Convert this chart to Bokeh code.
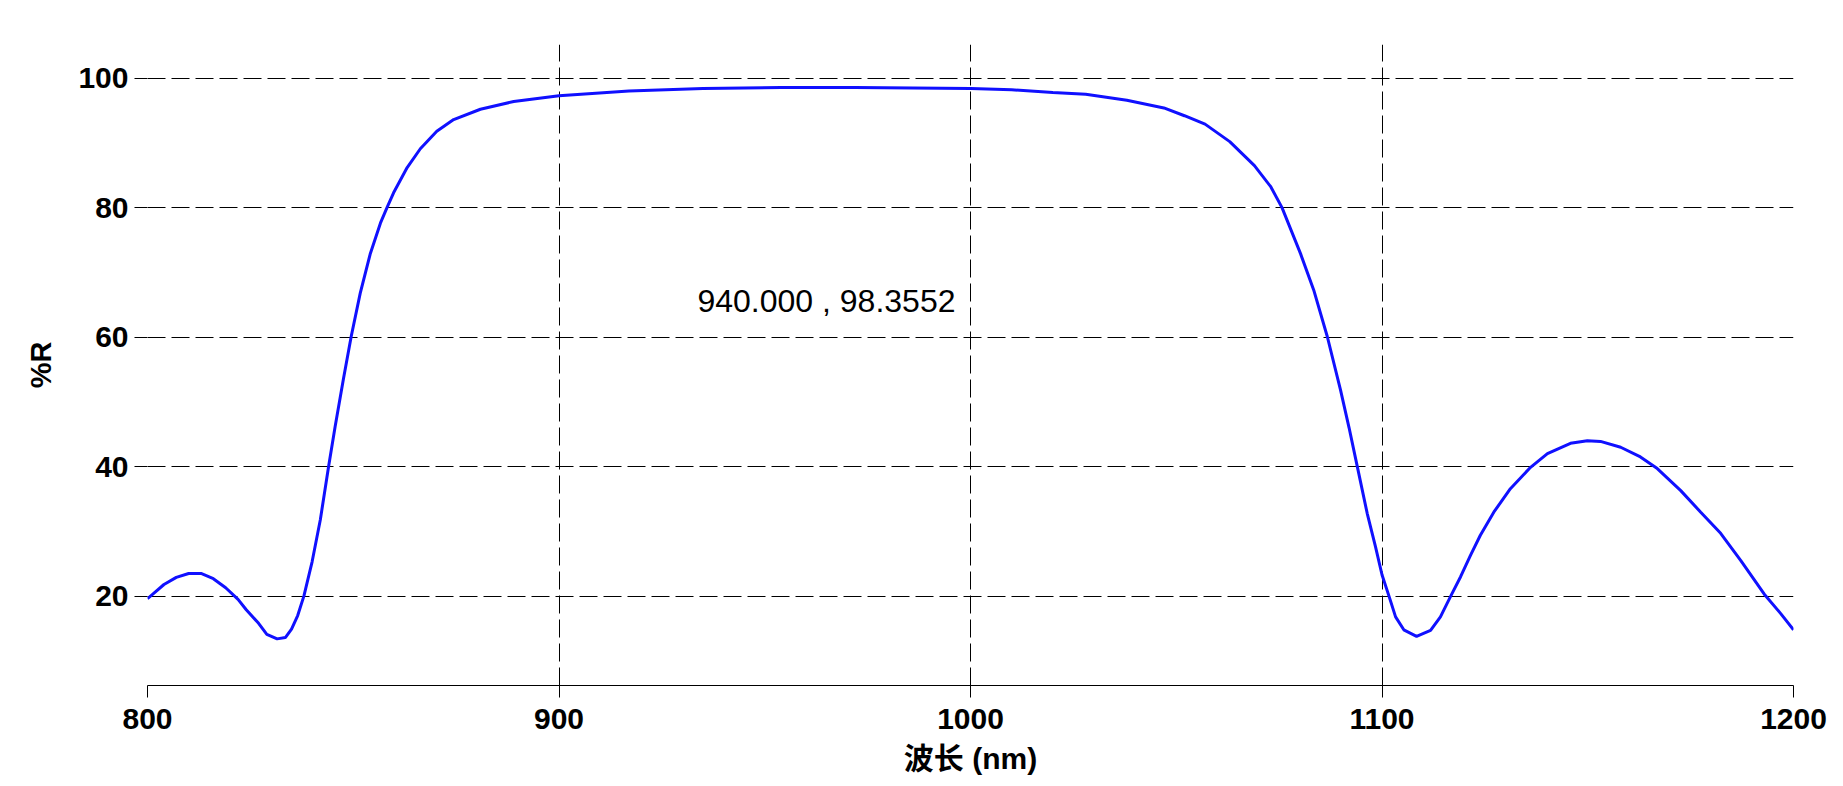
from bokeh.plotting import figure
from bokeh.models import FixedTicker, Range1d, Label
from bokeh.embed import file_html
from bokeh.resources import INLINE

# ---- data ----
wavelength = [800, 804, 807, 810, 813, 816, 819, 822, 824, 827, 829, 831.5, 833.5,
              835, 836.5, 838, 840, 842, 844, 845.6, 847.6, 849.5, 851.7, 854.1,
              856.6, 858.2, 859.8, 863.1, 866.3, 870.3, 874.4, 880.9, 889, 900,
              917, 935, 954, 972, 986, 1000, 1010, 1020, 1028, 1038, 1047, 1052,
              1057, 1063, 1069, 1073, 1075.7, 1080.2, 1083.4, 1086.7, 1089.9, 1092,
              1094, 1096.4, 1098.4, 1100, 1101.7, 1103.3, 1105.3, 1108.4, 1111.8,
              1114.2, 1116.7, 1119.1, 1121.5, 1123.9, 1127.2, 1131.2, 1136.1,
              1140.2, 1145.8, 1149.9, 1153.1, 1158, 1162.8, 1166.9, 1172.6, 1177.4,
              1182.3, 1187.2, 1192.9, 1196.9, 1200]
reflectance = [19.6, 21.8, 22.9, 23.5, 23.5, 22.7, 21.3, 19.5, 17.9, 15.8, 14.1, 13.4, 13.6,
               14.9, 17.0, 20.0, 25.3, 31.8, 40.0, 46.2, 53.5, 60.1, 66.8, 72.8,
               77.6, 80.0, 82.3, 86.2, 89.1, 91.8, 93.6, 95.2, 96.4, 97.3,
               98.0, 98.4, 98.55, 98.55, 98.5, 98.4, 98.2, 97.8, 97.5, 96.6, 95.4, 94.2,
               92.9, 90.2, 86.5, 83.2, 80.0, 72.9, 67.3, 60.1, 51.9, 46.0,
               40.0, 32.8, 27.7, 23.3, 20.0, 16.8, 14.8, 13.8, 14.7,
               16.8, 20.0, 23.0, 26.3, 29.4, 33.0, 36.6, 39.9,
               42.0, 43.6, 44.0, 43.9, 43.0, 41.5, 39.7, 36.3, 33.0,
               29.7, 25.5, 20.3, 17.3, 14.8]

x_ticks = [800, 900, 1000, 1100, 1200]
x_grid_ticks = [800, 900, 1000, 1100]
y_ticks = [20, 40, 60, 80, 100]
cursor_text = "940.000 , 98.3552"
x_title = "波长 (nm)"
y_title = "%R"

FONT = "'Liberation Sans', Arial, 'Noto Sans CJK SC'"

p = figure(width=1843, height=786, output_backend="svg", toolbar_location=None,
           x_range=Range1d(800, 1200), y_range=Range1d(6.2, 105.2),
           min_border_left=147, min_border_right=50, min_border_top=44,
           min_border_bottom=101, outline_line_color=None,
           background_fill_color="white", border_fill_color="white")

p.line(wavelength, reflectance, line_color="#1010ff", line_width=3)

# x axis
xa = p.xaxis[0]
xa.ticker = FixedTicker(ticks=x_ticks)
xa.axis_line_color = "black"
xa.axis_line_width = 1
xa.major_tick_in = 0
xa.major_tick_out = 12
xa.major_tick_line_color = "black"
xa.minor_tick_line_color = None
xa.major_label_text_font = FONT
xa.major_label_text_font_style = "bold"
xa.major_label_text_font_size = "30px"
xa.major_label_text_color = "black"
xa.major_label_standoff = 11
xa.axis_label = x_title
xa.axis_label_text_font = FONT
xa.axis_label_text_font_style = "bold"
xa.axis_label_text_font_size = "30px"
xa.axis_label_text_color = "black"
xa.axis_label_standoff = 10

# y axis
ya = p.yaxis[0]
ya.ticker = FixedTicker(ticks=y_ticks)
ya.axis_line_color = None
ya.major_tick_in = 0
ya.major_tick_out = 13
ya.major_tick_line_color = "black"
ya.minor_tick_line_color = None
ya.major_label_text_font = FONT
ya.major_label_text_font_style = "bold"
ya.major_label_text_font_size = "30px"
ya.major_label_text_color = "black"
ya.major_label_standoff = 6
ya.axis_label = y_title
ya.axis_label_text_font = FONT
ya.axis_label_text_font_style = "bold"
ya.axis_label_text_font_size = "29px"
ya.axis_label_text_color = "black"
ya.axis_label_standoff = 18

# grids
p.xgrid.ticker = FixedTicker(ticks=x_grid_ticks)
p.ygrid.ticker = FixedTicker(ticks=y_ticks)
for g in (p.xgrid[0], p.ygrid[0]):
    g.grid_line_color = "black"
    g.grid_line_alpha = 1.0
    g.grid_line_width = 1
    g.grid_line_dash = "18 6"

p.add_layout(Label(x=965, y=65.6, text=cursor_text, text_align="center",
                   text_baseline="alphabetic", text_font=FONT,
                   text_font_size="32px", text_color="black"))

open("out.html", "w").write(file_html(p, INLINE))
